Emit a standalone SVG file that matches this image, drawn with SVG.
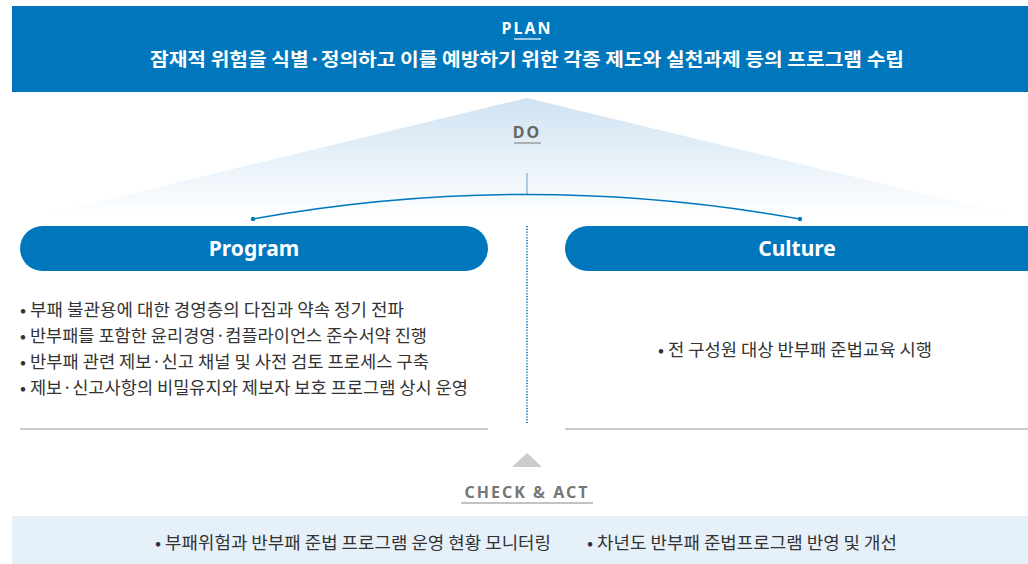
<svg xmlns="http://www.w3.org/2000/svg" width="1028" height="564" viewBox="0 0 1028 564">
<defs>
<linearGradient id="tri" x1="0" y1="0" x2="0" y2="1">
<stop offset="0" stop-color="#cfe3f2"/>
<stop offset="1" stop-color="#ffffff"/>
</linearGradient>
<style>
.kr{font-family:"Noto Sans CJK KR","Noto Sans",sans-serif;}
.title{fill:#fff;font-weight:700;font-size:18.5px;}
.lbl{font-family:"Noto Sans","Open Sans",sans-serif;font-weight:700;letter-spacing:2px;}
.pill{fill:#0077bd;}
.pilltxt{font-family:"Noto Sans","Open Sans",sans-serif;font-weight:700;font-size:21px;fill:#fff;}
.item{fill:#333;font-size:17px;}
.sep{stroke:#cccccc;stroke-width:2;}
</style>
</defs>
<rect width="1028" height="564" fill="#fff"/>
<g id="plan">
<rect x="12" y="6" width="1016" height="86" fill="#0077bd"/>
<text x="527" y="34" text-anchor="middle" class="lbl" font-size="16" fill="#fff">PLAN</text>
<line x1="514" y1="39" x2="541" y2="39" stroke="#fff" stroke-width="1.2"/>
<text x="527" y="66" text-anchor="middle" class="kr title" textLength="754" lengthAdjust="spacingAndGlyphs">잠재적 위험을 식별·정의하고 이를 예방하기 위한 각종 제도와 실천과제 등의 프로그램 수립</text>
</g>
<g id="do">
<polygon points="527,98 30,218 1024,218" fill="url(#tri)"/>
<text x="527" y="138" text-anchor="middle" class="lbl" font-size="16" fill="#666" letter-spacing="1">DO</text>
<line x1="514" y1="143" x2="541" y2="143" stroke="#888" stroke-width="1.2"/>
</g>
<g id="connectors">
<line x1="527" y1="173" x2="527" y2="195" stroke="#5aa5d6" stroke-width="1"/>
<path d="M253,219 Q527,170 800,219" fill="none" stroke="#0077bd" stroke-width="1.5"/>
<circle cx="253" cy="219" r="2.2" fill="#0077bd"/>
<circle cx="800" cy="219" r="2.2" fill="#0077bd"/>
<line x1="527" y1="226" x2="527" y2="423" stroke="#2a86c8" stroke-width="2" stroke-dasharray="1.2,1.6"/>
</g>
<g id="program">
<rect x="20" y="226" width="468" height="45" rx="22.5" class="pill"/>
<text x="254" y="256" text-anchor="middle" class="pilltxt">Program</text>
<text x="20" y="316" class="kr item" textLength="384" lengthAdjust="spacingAndGlyphs">• 부패 불관용에 대한 경영층의 다짐과 약속 정기 전파</text>
<text x="20" y="342" class="kr item" textLength="407" lengthAdjust="spacingAndGlyphs">• 반부패를 포함한 윤리경영·컴플라이언스 준수서약 진행</text>
<text x="20" y="368" class="kr item" textLength="409" lengthAdjust="spacingAndGlyphs">• 반부패 관련 제보·신고 채널 및 사전 검토 프로세스 구축</text>
<text x="20" y="394" class="kr item" textLength="448" lengthAdjust="spacingAndGlyphs">• 제보·신고사항의 비밀유지와 제보자 보호 프로그램 상시 운영</text>
<line x1="20" y1="429" x2="488" y2="429" class="sep"/>
</g>
<g id="culture">
<rect x="565" y="226" width="490" height="45" rx="22.5" class="pill"/>
<text x="795" y="356" text-anchor="middle" class="kr item" textLength="274" lengthAdjust="spacingAndGlyphs">• 전 구성원 대상 반부패 준법교육 시행</text>
<text x="797" y="256" text-anchor="middle" class="pilltxt">Culture</text>
<line x1="565" y1="429" x2="1028" y2="429" class="sep"/>
</g>
<g id="check-act">
<polygon points="527,453 512,467 542,467" fill="#cccccc"/>
<text x="527" y="498" text-anchor="middle" class="lbl" font-size="16" fill="#777" letter-spacing="2.4">CHECK &amp; ACT</text>
<line x1="461" y1="503" x2="593" y2="503" stroke="#888" stroke-width="1.2"/>
<rect x="12" y="516" width="1016" height="48" fill="#e6f0f9"/>
<text x="155" y="549" class="kr item" font-size="15.5" textLength="396" lengthAdjust="spacingAndGlyphs">• 부패위험과 반부패 준법 프로그램 운영 현황 모니터링</text>
<text x="587" y="549" class="kr item" font-size="15.5" textLength="310" lengthAdjust="spacingAndGlyphs">• 차년도 반부패 준법프로그램 반영 및 개선</text>
</g>
</svg>
